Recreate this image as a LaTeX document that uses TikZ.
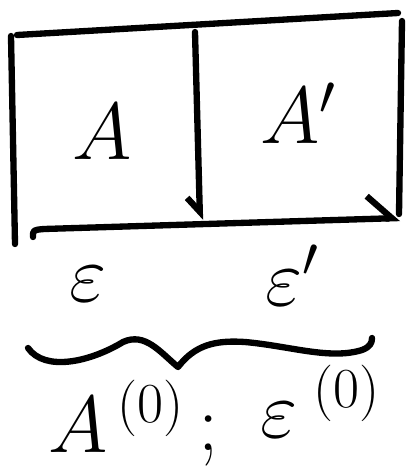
\documentclass[tikz,border=0pt]{standalone}
\usepackage{fix-cm}
\usetikzlibrary{arrows.meta}
\begin{document}
\begin{tikzpicture}[
	x=0.02cm, y=-0.02cm,
	pen/.style={ line width=3.6pt, line cap=round, line join=round },
	lbl/.style={ inner sep=0pt, font=\fontsize{46}{52}\selectfont },
	barbmid/.style={ -{Straight Barb[harpoon, swap, length=8pt, width=14pt]} },
	barbend/.style={ -{Straight Barb[harpoon, length=14pt, width=26pt]} }
]
\useasboundingbox (0,0) rectangle (407,471);

% the two boxes
\coordinate (topL) at (17,35);
\coordinate (topR) at (398,13);
\coordinate (leftT) at (11,36);
\coordinate (leftB) at (15,244);
\coordinate (midT) at (195,32);
\coordinate (midB) at (200,220);
\coordinate (rightT) at (402,21);
\coordinate (rightB) at (399,214);
\coordinate (botL) at (33,237);
\coordinate (botR) at (400,218);

\draw[pen] (topL) to (topR);
\draw[pen] (leftT) to (leftB);
\draw[pen] (rightT) to (rightB);
\draw[pen,barbmid] (midT) to (midB);
\draw[pen,barbend] (botL) .. controls (33,230) .. (44,229) -- (botR);

\node at (102,132) (a) [lbl] {$A$};
\node at (298,113) (ap) [lbl] {$A'$};

\node at (88,284) (eps) [lbl] {$\varepsilon$};
\node at (292,275) (epsp) [lbl] {$\varepsilon'$};

% brace
\coordinate (braceL) at (28,348);
\coordinate (braceR) at (372,338);
\coordinate (braceTip) at (178,367);
\draw[pen] (braceL) .. controls (45,372) and (90,362) .. (123,342)
	.. controls (145,332) and (160,352) .. (braceTip)
	.. controls (195,345) and (215,340) .. (245,342)
	.. controls (290,346) and (330,360) .. (362,350)
	.. controls (370,347) and (372,343) .. (braceR);

\node at (48,452) (azero) [lbl,anchor=base west] {$A^{\,(0)}$};
\node at (198,450) (semi) [lbl,anchor=base west] {$;$};
\node at (260,437) (epszero) [lbl,anchor=base west] {$\varepsilon^{\;(0)}$};

\end{tikzpicture}
\end{document}
